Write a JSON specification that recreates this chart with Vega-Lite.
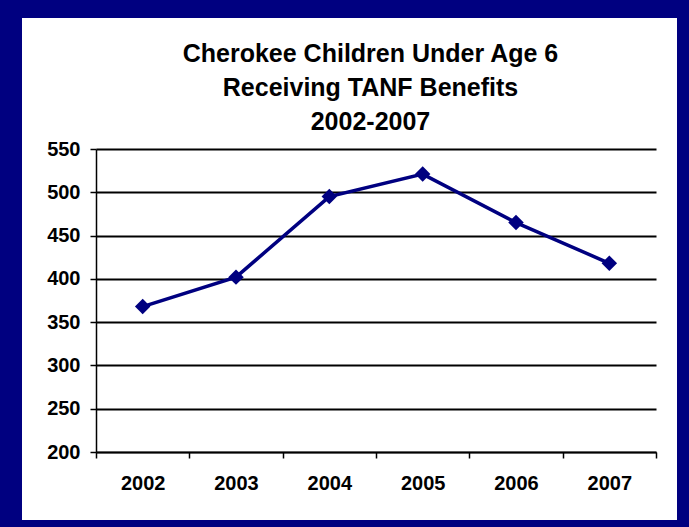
{
  "$schema": "https://vega.github.io/schema/vega-lite/v6.json",
  "width": 655,
  "height": 502,
  "autosize": {"type": "none"},
  "padding": {"left": 22, "top": 18, "right": 12, "bottom": 7},
  "background": "#000080",
  "config": {"view": {"fill": "white", "stroke": null}, "font": "Liberation Sans"},
  "title": {
    "text": ["Cherokee Children Under Age 6", "Receiving TANF Benefits", "2002-2007"],
    "fontSize": 25,
    "fontWeight": "bold",
    "font": "Liberation Sans",
    "color": "black",
    "lineHeight": 34,
    "anchor": "middle",
    "frame": "group",
    "offset": -117,
    "dx": 21
  },
  "data": {
    "values": [
      {"year": 2002, "count": 368},
      {"year": 2003, "count": 402},
      {"year": 2004, "count": 495},
      {"year": 2005, "count": 521},
      {"year": 2006, "count": 465},
      {"year": 2007, "count": 418}
    ]
  },
  "mark": {
    "type": "line",
    "color": "#000080",
    "strokeWidth": 3.5,
    "point": {"shape": "diamond", "size": 240, "filled": true, "color": "#000080", "opacity": 1}
  },
  "encoding": {
    "x": {
      "field": "year",
      "type": "ordinal",
      "bandPosition": 0.5,
      "scale": {"type": "band", "range": [74, 634], "paddingInner": 0, "paddingOuter": 0},
      "axis": {
        "orient": "bottom",
        "offset": -68,
        "title": null,
        "labelAngle": 0,
        "tickBand": "extent",
        "grid": false,
        "domainColor": "black",
        "domainWidth": 1.5,
        "tickColor": "black",
        "tickSize": 6,
        "tickWidth": 1.5,
        "labelFont": "Liberation Sans",
        "labelFontSize": 20,
        "labelFontWeight": "bold",
        "labelColor": "black",
        "labelPadding": 15
      }
    },
    "y": {
      "field": "count",
      "type": "quantitative",
      "scale": {"domain": [200, 550], "range": [434, 131], "nice": false, "zero": false},
      "axis": {
        "orient": "left",
        "offset": -74,
        "title": null,
        "values": [200, 250, 300, 350, 400, 450, 500, 550],
        "grid": true,
        "gridColor": "black",
        "gridWidth": 2,
        "gridOpacity": 1,
        "domainColor": "black",
        "domainWidth": 1.5,
        "tickColor": "black",
        "tickSize": 6,
        "tickWidth": 1.5,
        "labelFont": "Liberation Sans",
        "labelFontSize": 20,
        "labelFontWeight": "bold",
        "labelColor": "black",
        "labelPadding": 10
      }
    }
  }
}
